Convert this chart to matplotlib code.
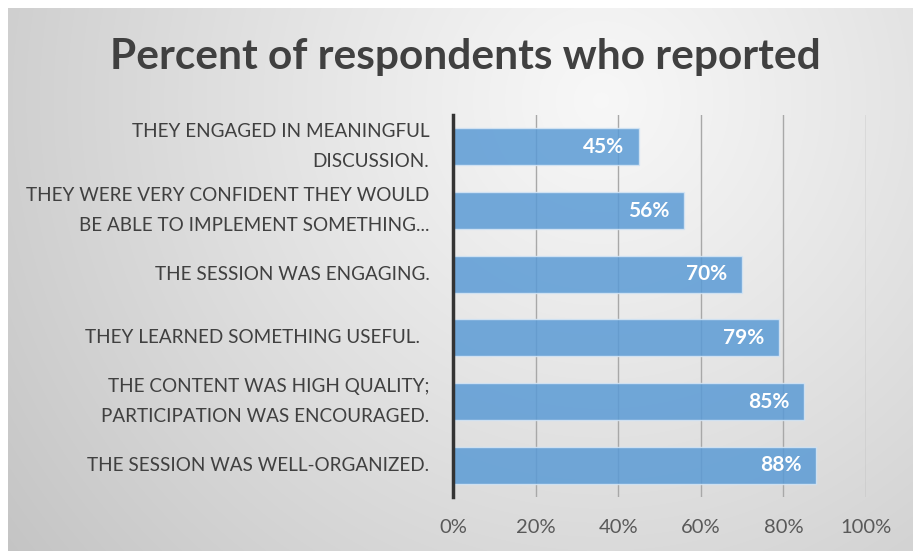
import numpy as np
import matplotlib.pyplot as plt

# Data (top to bottom as shown in the chart)
categories = [
    "THEY ENGAGED IN MEANINGFUL\nDISCUSSION.",
    "THEY WERE VERY CONFIDENT THEY WOULD\nBE ABLE TO IMPLEMENT SOMETHING...",
    "THE SESSION WAS ENGAGING.",
    "THEY LEARNED SOMETHING USEFUL.  ",
    "THE CONTENT WAS HIGH QUALITY;\nPARTICIPATION WAS ENCOURAGED.",
    "THE SESSION WAS WELL-ORGANIZED.",
]
values = [45, 56, 70, 79, 85, 88]
x_ticks = [0, 20, 40, 60, 80, 100]
x_tick_labels = ["0%", "20%", "40%", "60%", "80%", "100%"]

font = "Lato"

fig = plt.figure(figsize=(9.13, 5.52), dpi=100, facecolor="white")

# Radial gradient background of the chart area
bg = fig.add_axes([8 / 913, 1 / 552, 905 / 913, 543 / 552], zorder=-10)
h, w = 543, 905
yy, xx = np.mgrid[0:h, 0:w]
r = np.hypot(xx - 592, yy - 92) / 744.0
gray = np.clip(0.97 - 0.2 * r ** 1.1, 0, 1)
bg.imshow(np.dstack([gray, gray, gray]), aspect="auto", extent=[0, 1, 0, 1])
bg.axis("off")

ax = fig.add_axes([453 / 913, 1 - 497 / 552, 413 / 913, 382 / 552])
ax.patch.set_alpha(0)

y = np.arange(len(categories))
bars = ax.barh(y, values, height=0.58, color="#5B9BD5", alpha=0.85,
               edgecolor="#d6e6f5", linewidth=1.0, zorder=3)
ax.set_ylim(len(categories) - 0.5, -0.5)
ax.set_xlim(0, 100)

for yi, v in zip(y, values):
    ax.text(v - 3.6, yi, f"{v}%", ha="right", va="center", color="white",
            fontsize=15, fontweight="bold", family=font, zorder=4)

ax.set_yticks(y)
ax.set_yticklabels(categories, fontsize=13.6, color="#404040", family=font,
                   linespacing=1.95, va="center")
ax.set_xticks(x_ticks)
ax.set_xticklabels(x_tick_labels, fontsize=14.5, color="#595959", family=font)
ax.tick_params(axis="y", length=0, pad=17)
ax.tick_params(axis="x", length=0, pad=16)

ax.grid(axis="x", color="#a8a8a8", linewidth=1.0, zorder=1)
ax.set_axisbelow(True)
for s in ["top", "right", "bottom"]:
    ax.spines[s].set_visible(False)
ax.spines["left"].set_color("#333333")
ax.spines["left"].set_linewidth(2.5)
ax.spines["left"].set_zorder(5)

fig.text(465 / 913, 1 - 57 / 552, "Percent of respondents who reported",
         ha="center", va="center", fontsize=30.5, fontweight="bold",
         color="#404040", family=font)

fig.savefig("out.png", dpi=100, facecolor="white")
